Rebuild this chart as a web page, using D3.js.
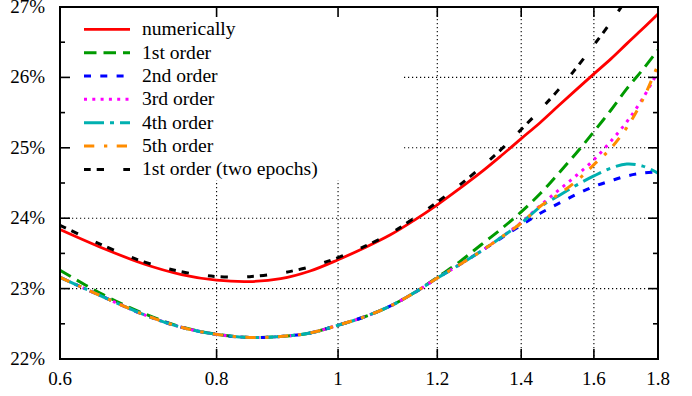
<!DOCTYPE html>
<html>
<head>
<meta charset="utf-8">
<script src="https://cdn.jsdelivr.net/npm/d3@7"></script>
<style>
  html, body { margin: 0; padding: 0; background: #fff; }
</style>
</head>
<body>
<svg id="chart" width="692" height="396" font-family="'Liberation Serif', 'Times New Roman', Times, serif"></svg>
<script>
// Sample points along x (log axis)
const xs = [0.6, 0.65, 0.7, 0.75, 0.8, 0.85, 0.9, 0.95, 1.0, 1.05, 1.1, 1.15, 1.2,
            1.25, 1.3, 1.35, 1.4, 1.45, 1.5, 1.55, 1.6, 1.65, 1.7, 1.75, 1.8];

// Values in percent
const numerically = [23.84, 23.57, 23.35, 23.20, 23.12, 23.10, 23.14, 23.25, 23.41, 23.58, 23.76, 23.97, 24.19,
                     24.42, 24.65, 24.89, 25.13, 25.36, 25.60, 25.83, 26.05, 26.26, 26.48, 26.69, 26.90];
const order1 = [23.26, 22.91, 22.645, 22.455, 22.35, 22.305, 22.32, 22.37, 22.48, 22.60, 22.75, 22.94, 23.16,
                23.38, 23.62, 23.85, 24.09, 24.35, 24.64, 24.93, 25.23, 25.53, 25.84, 26.11, 26.39];
const order2 = [23.16, 22.88, 22.63, 22.45, 22.35, 22.305, 22.32, 22.37, 22.48, 22.60, 22.75, 22.94, 23.15,
                23.34, 23.53, 23.72, 23.90, 24.07, 24.21, 24.34, 24.45, 24.53, 24.60, 24.64, 24.66];
const order3 = [23.16, 22.88, 22.63, 22.45, 22.35, 22.305, 22.32, 22.37, 22.48, 22.60, 22.75, 22.94, 23.15,
                23.34, 23.53, 23.73, 23.94, 24.18, 24.40, 24.61, 24.83, 25.09, 25.37, 25.70, 26.08];
const order4 = [23.16, 22.88, 22.63, 22.45, 22.35, 22.305, 22.32, 22.37, 22.48, 22.60, 22.75, 22.94, 23.15,
                23.34, 23.53, 23.73, 23.93, 24.16, 24.32, 24.47, 24.60, 24.71, 24.77, 24.74, 24.64];
const order5 = [23.16, 22.88, 22.63, 22.45, 22.35, 22.305, 22.32, 22.37, 22.48, 22.60, 22.75, 22.94, 23.15,
                23.34, 23.53, 23.73, 23.93, 24.17, 24.34, 24.53, 24.76, 24.99, 25.29, 25.68, 26.18];
const order1TwoEpochs = [23.90, 23.61, 23.38, 23.24, 23.17, 23.17, 23.22, 23.31, 23.44, 23.60, 23.78, 24.00, 24.23,
                         24.47, 24.72, 24.98, 25.26, 25.54, 25.83, 26.14, 26.46, 26.78, 27.12, 27.45, 27.78];

const xTicks = [0.6, 0.8, 1.0, 1.2, 1.4, 1.6, 1.8];
const xTickLabels = ["0.6", "0.8", "1", "1.2", "1.4", "1.6", "1.8"];
const yTicks = [22, 23, 24, 25, 26, 27];
const yTickLabels = ["22%", "23%", "24%", "25%", "26%", "27%"];
const yMinorTicks = [22.5, 23.5, 24.5, 25.5, 26.5];

const seriesNames = ["numerically", "1st order", "2nd order", "3rd order", "4th order", "5th order", "1st order (two epochs)"];
const seriesValues = [numerically, order1, order2, order3, order4, order5, order1TwoEpochs];

// Line styles per series
const styles = [
  { color: "#ff0000", dash: null },
  { color: "#009a00", dash: "12.5,7" },
  { color: "#0000ff", dash: "7,9.3" },
  { color: "#ff00ff", dash: "3,5.3" },
  { color: "#00b0b0", dash: "20,6,4,6" },
  { color: "#ff8c00", dash: "10.3,9.7,3.3,9.4" },
  { color: "#000000", dash: "6.7,6,7.3,19.3" }
];

const plotL = 60, plotR = 658, plotT = 7, plotB = 359;

const x = d3.scaleLog().domain([0.6, 1.8]).range([plotL, plotR]);
const y = d3.scaleLinear().domain([22, 27]).range([plotB, plotT]);

const svg = d3.select("#chart");

svg.append("defs").append("clipPath").attr("id", "plotclip")
  .append("rect").attr("x", plotL).attr("y", plotT).attr("width", plotR - plotL).attr("height", plotB - plotT);

// Dotted grid
const grid = svg.append("g").attr("stroke", "#000").attr("stroke-width", 1.1).attr("stroke-dasharray", "1.2,2.8");
xTicks.slice(1, -1).forEach(v => {
  grid.append("line").attr("x1", x(v)).attr("x2", x(v)).attr("y1", plotT).attr("y2", plotB);
});
yTicks.slice(1, -1).forEach(v => {
  grid.append("line").attr("x1", plotL).attr("x2", plotR).attr("y1", y(v)).attr("y2", y(v));
});

// Opaque legend area
const legendBox = { x0: plotL + 1, y0: plotT + 1, x1: 403, y1: 180 };
svg.append("rect")
  .attr("x", legendBox.x0).attr("y", legendBox.y0)
  .attr("width", legendBox.x1 - legendBox.x0).attr("height", legendBox.y1 - legendBox.y0)
  .attr("fill", "#fff");

// Curves
const line = d3.line()
  .x((d, i) => x(xs[i]))
  .y(d => y(d))
  .curve(d3.curveCatmullRom.alpha(0.5));

const curves = svg.append("g").attr("clip-path", "url(#plotclip)");
seriesValues.forEach((vals, k) => {
  curves.append("path")
    .attr("d", line(vals))
    .attr("fill", "none")
    .attr("stroke", styles[k].color)
    .attr("stroke-width", k === 0 ? 2.8 : 3)
    .attr("stroke-dasharray", styles[k].dash);
});

// Legend entries
const legend = svg.append("g");
seriesNames.forEach((name, k) => {
  const cy = 29.3 + k * 23.35;
  legend.append("line")
    .attr("x1", 84).attr("x2", 130).attr("y1", cy).attr("y2", cy)
    .attr("stroke", styles[k].color)
    .attr("stroke-width", k === 0 ? 2.8 : 3)
    .attr("stroke-dasharray", styles[k].dash);
  legend.append("text")
    .attr("x", 142).attr("y", cy + 6)
    .attr("font-size", 19.6)
    .text(name);
});

// Axes frame and ticks
const axes = svg.append("g").attr("stroke", "#000").attr("stroke-width", 1.6);
svg.append("rect")
  .attr("x", plotL).attr("y", plotT).attr("width", plotR - plotL).attr("height", plotB - plotT)
  .attr("fill", "none").attr("stroke", "#000").attr("stroke-width", 2);

xTicks.forEach(v => {
  axes.append("line").attr("x1", x(v)).attr("x2", x(v)).attr("y1", plotB).attr("y2", plotB - 10);
  axes.append("line").attr("x1", x(v)).attr("x2", x(v)).attr("y1", plotT).attr("y2", plotT + 10);
});
yTicks.forEach(v => {
  axes.append("line").attr("x1", plotL).attr("x2", plotL + 10).attr("y1", y(v)).attr("y2", y(v));
  axes.append("line").attr("x1", plotR).attr("x2", plotR - 10).attr("y1", y(v)).attr("y2", y(v));
});
yMinorTicks.forEach(v => {
  axes.append("line").attr("x1", plotL).attr("x2", plotL + 5).attr("y1", y(v)).attr("y2", y(v));
  axes.append("line").attr("x1", plotR).attr("x2", plotR - 5).attr("y1", y(v)).attr("y2", y(v));
});

// Tick labels
const labels = svg.append("g").attr("font-size", 19);
xTicks.forEach((v, i) => {
  labels.append("text")
    .attr("x", x(v)).attr("y", 385)
    .attr("text-anchor", "middle")
    .text(xTickLabels[i]);
});
yTicks.forEach((v, i) => {
  labels.append("text")
    .attr("x", 45).attr("y", y(v) + 6)
    .attr("text-anchor", "end")
    .text(yTickLabels[i]);
});
</script>
</body>
</html>
